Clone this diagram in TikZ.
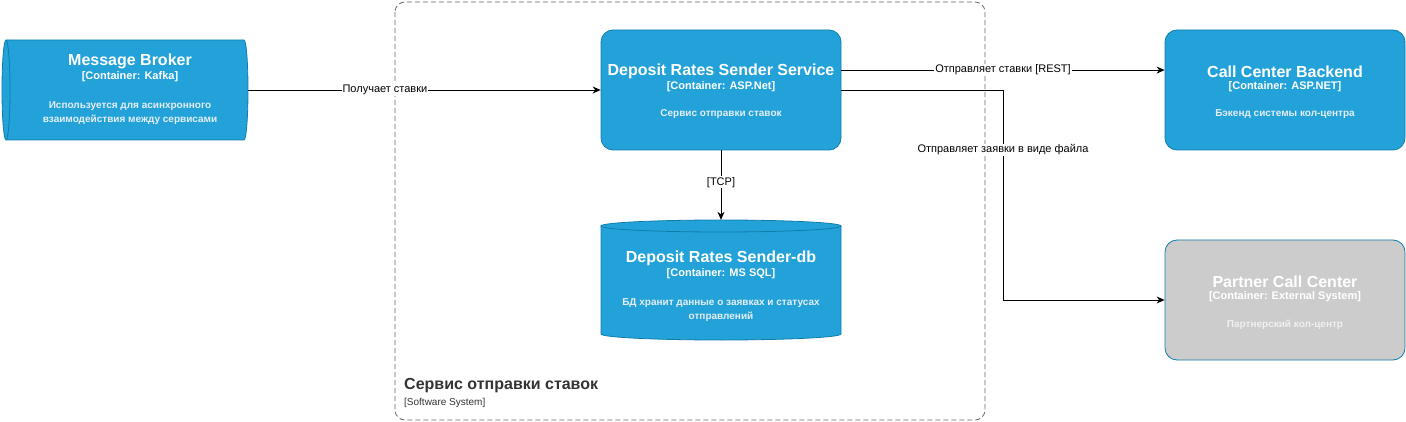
\documentclass[tikz,border=0pt]{standalone}
\usepackage{fontspec}
\setmainfont{Liberation Sans}
\usetikzlibrary{arrows.meta,calc}
\definecolor{cfill}{HTML}{23A2D9}
\definecolor{cstroke}{HTML}{0E7DAD}
\definecolor{cdesc}{HTML}{E4EEF4}
\definecolor{extfill}{HTML}{CCCCCC}
\definecolor{bnd}{HTML}{666666}
\definecolor{bndtext}{HTML}{333333}
\tikzset{
  box/.style={draw=cstroke, fill=cfill, rounded corners=12pt, minimum width=240pt, minimum height=120pt, line width=0.8pt},
  extbox/.style={box, fill=extfill},
  ghost/.style={inner sep=0pt, minimum width=#1},
  ttl/.style={text=white, align=center, inner sep=0pt, font=\fontsize{16}{19}\selectfont\bfseries},
  typ/.style={text=white, align=center, inner sep=0pt, font=\fontsize{11}{13}\selectfont\bfseries},
  dtxt/.style={text=cdesc, align=center, inner sep=0pt, font=\fontsize{10}{14}\selectfont\bfseries},
  conn/.style={draw=black, line width=0.8pt, -{Stealth[length=8pt,width=7pt]}},
  lbl/.style={fill=white, inner sep=1pt, font=\fontsize{11}{13}\selectfont, text=black},
}
\begin{document}
\begin{tikzpicture}[x=1pt,y=-1pt]
\useasboundingbox (0,0) rectangle (1406,422);
% boundary
\draw[bnd, line width=0.8pt, dash pattern=on 5pt off 3pt, rounded corners=10pt] (395,2) rectangle (985,420);
\node[anchor=west, inner sep=0pt, text=bndtext, font=\fontsize{16}{19}\selectfont\bfseries] (bndname) at (404,386) {Сервис отправки ставок};
\node[anchor=west, inner sep=0pt, text=bndtext, font=\fontsize{10}{12}\selectfont] (bndtype) at (404,403) {[Software System]};

% Message broker (horizontal cylinder)
\fill[cfill] (6,40) -- (244,40) arc[start angle=-90,end angle=90,x radius=4,y radius=50] -- (6,140) arc[start angle=90,end angle=270,x radius=4,y radius=50] -- cycle;
\draw[cstroke, line width=0.8pt] (6,40) -- (244,40) arc[start angle=-90,end angle=90,x radius=4,y radius=50] -- (6,140) arc[start angle=90,end angle=270,x radius=4,y radius=50];
\draw[cstroke, line width=0.8pt] (6,40) arc[start angle=-90,end angle=90,x radius=4,y radius=50];
\node[ghost=246pt, minimum height=100pt] (broker) at (125,90) {};
\node[ttl] (brokert) at (130,61.5) {Message Broker};
\node[typ] (brokerc) at (130,77) {[Container: Kafka]};
\node[dtxt] (brokerd) at (130,113.5) {Используется для асинхронного\\взаимодействия между сервисами};

% Service
\node[box] (service) at (721,90) {};
\node[ttl] (servicet) at (721,71.5) {Deposit Rates Sender Service};
\node[typ] (servicec) at (721,87) {[Container: ASP.Net]};
\node[dtxt] (serviced) at (721,114.5) {Сервис отправки ставок};

% DB cylinder
\fill[cfill] (601,226) -- (601,334) arc[start angle=180,end angle=0,x radius=120,y radius=6] -- (841,226) arc[start angle=0,end angle=-180,x radius=120,y radius=6] -- cycle;
\draw[cstroke, line width=0.8pt] (601,226) -- (601,334) arc[start angle=180,end angle=0,x radius=120,y radius=6] -- (841,226);
\draw[cstroke, line width=0.8pt] (721,226) ellipse[x radius=120,y radius=6];
\node[ghost=240pt, minimum height=120pt] (db) at (721,280) {};
\node[ttl] (dbt) at (721,258.5) {Deposit Rates Sender-db};
\node[typ] (dbc) at (721,274) {[Container: MS SQL]};
\node[dtxt] (dbd) at (721,310.5) {БД хранит данные о заявках и статусах\\отправлений};

% Call Center Backend
\node[box] (backend) at (1285,90) {};
\node[ttl] (backendt) at (1285,71.5) {Call Center Backend};
\node[typ] (backendc) at (1285,87) {[Container: ASP.NET]};
\node[dtxt] (backendd) at (1285,114.5) {Бэкенд системы кол-центра};

% Partner Call Center
\node[extbox] (partner) at (1285,300) {};
\node[ttl] (partnert) at (1285,281.5) {Partner Call Center};
\node[typ] (partnerc) at (1285,297) {[Container: External System]};
\node[dtxt, text=white!70!extfill] (partnerd) at (1285,324.5) {Партнерский кол-центр};

% connectors
\draw[conn] (broker.east) -- node[lbl, pos=0.388] {Получает ставки} (service.west);
\draw[conn] (service.south) -- node[lbl, pos=0.46] {[TCP]} (db.north);
\draw[conn] ($(service.north east)!0.335!(service.south east)$) -- node[lbl] {Отправляет ставки [REST]} ($(backend.north west)!0.335!(backend.south west)$);
\coordinate (bend1) at (1003,90);
\coordinate (bend2) at (1003,300);
\draw[conn] (service.east) -- (bend1) -- node[lbl, pos=0.285] {Отправляет заявки в виде файла} (bend2) -- (partner.west);
\end{tikzpicture}
\end{document}
